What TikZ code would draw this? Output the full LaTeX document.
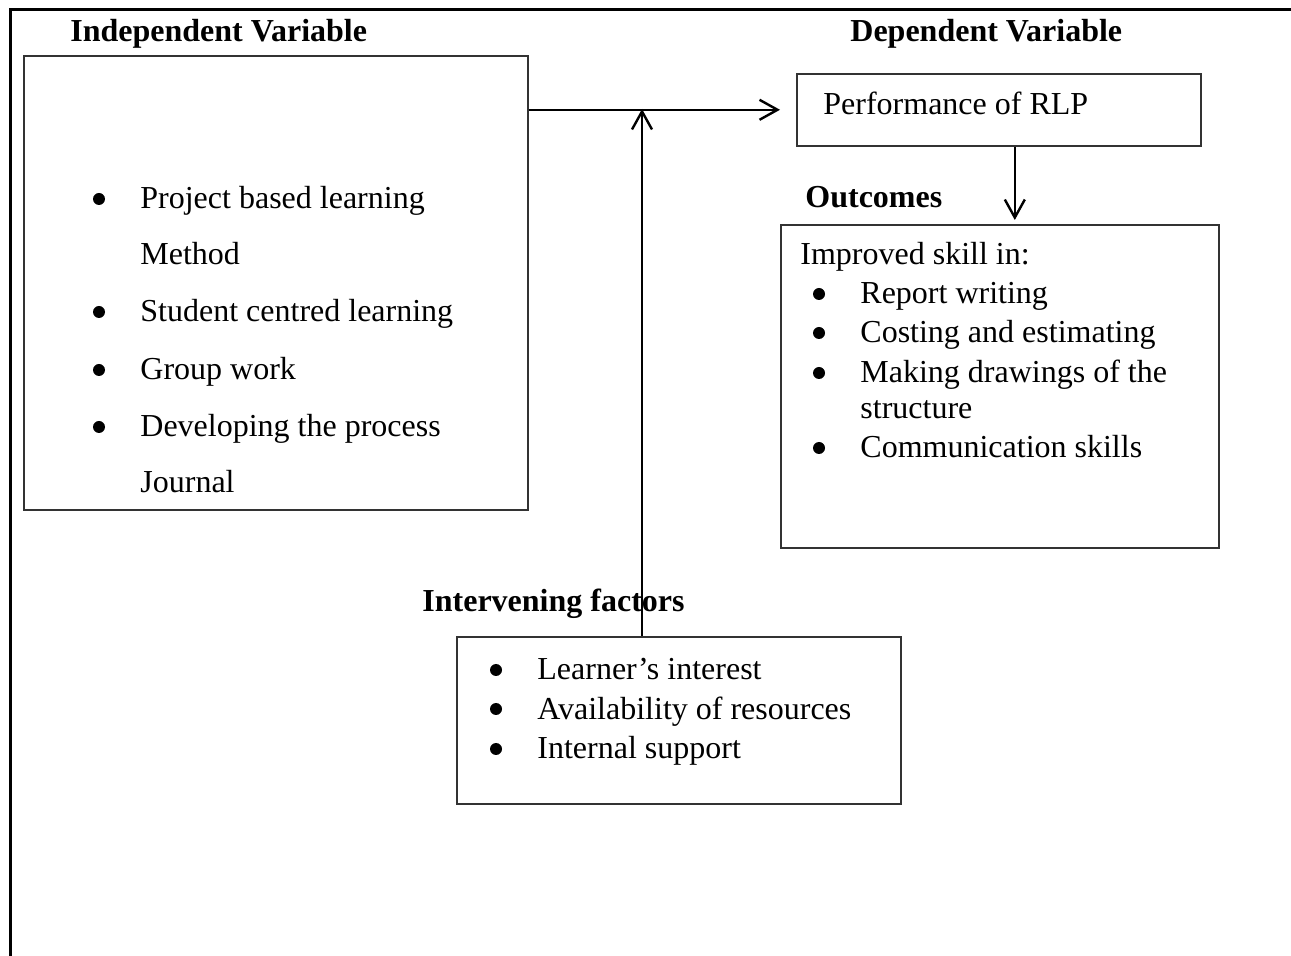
\documentclass[tikz,border=0pt]{standalone}
\usepackage{fontspec}
\setmainfont{Liberation Serif}
\usetikzlibrary{arrows.meta,positioning}
\begin{document}
\begin{tikzpicture}[x=0.5pt, y=-0.5pt, font=\fontsize{16}{19}\selectfont,
	box/.style={draw=black!80, line width=0.8pt, inner sep=0pt, anchor=north west},
	txt/.style={inner sep=0pt, anchor=base west},
	head/.style={txt, font=\fontsize{16}{19}\selectfont\bfseries},
	dot/.style={circle, fill, inner sep=0pt, minimum size=6pt},
	arr/.style={line width=1.2pt, -{Straight Barb[length=9pt, width=10pt, line width=1.2pt]}}]
	\useasboundingbox (0,0) rectangle (1291,956);
	\draw[line width=1.5pt] (10,956)--(10,10)--(1291,10);
	% boxes
	\node[box, minimum width=252pt, minimum height=227pt] (indep) at (23,55) {};
	\node[box, minimum width=202pt, minimum height=36pt] (perf) at (796,73) {};
	\node[box, minimum width=219pt, minimum height=161.5pt] (outc) at (780,224) {};
	\node[box, minimum width=222pt, minimum height=83.5pt] (interv) at (456,636) {};
	% headings
	\node[head] (hind) at (70,42) {Independent Variable};
	\node[head] (hdep) at (850,42) {Dependent Variable};
	\node[head] (hout) at (805,208) {Outcomes};
	\node[head] (hint) at (422,612) {Intervening factors};
	% texts
	\node[txt] (tperf) at (823,115) {Performance of RLP};
	\node[txt] (tout) at (800,265) {Improved skill in:};
	\foreach \n/\y/\t in {1/209/Project based learning, 2/265/Method, 3/322/Student centred learning,
		4/380/Group work, 5/437/Developing the process, 6/493/Journal}{
	\node[txt] (ind\n) at (140,\y) {\t};
	}
	\foreach \n/\y in {1/209, 3/322, 4/380, 5/437}{
	\node[dot] (indb\n) at (99,\y-10) {};
	}
	\foreach \n/\y/\t/\b in {1/304/Report writing/1, 2/343/Costing and estimating/1,
		3/383/Making drawings of the/1, 4/419/structure/0, 5/458/Communication skills/1}{
	\node[txt] (out\n) at (860,\y) {\t};
	\ifnum\b=1 \node[dot] (outb\n) at (819,\y-10) {};\fi
	}
	\foreach \n/\y/\t in {1/680/Learner’s interest, 2/719/Availability of resources, 3/759/Internal support}{
	\node[txt] (int\n) at (537,\y) {\t};
	\node[dot] (intb\n) at (496,\y-10) {};
	}
	% connectors
	\coordinate (join) at (642,109);
	\draw[arr] (indep.east |- perf.west)--([xshift=-8pt]perf.west);
	\draw[arr] (join |- interv.north)--(join);
	\draw[arr] ([xshift=8pt]perf.south)--([xshift=7.5pt,yshift=2pt]outc.north);
\end{tikzpicture}
\end{document}
